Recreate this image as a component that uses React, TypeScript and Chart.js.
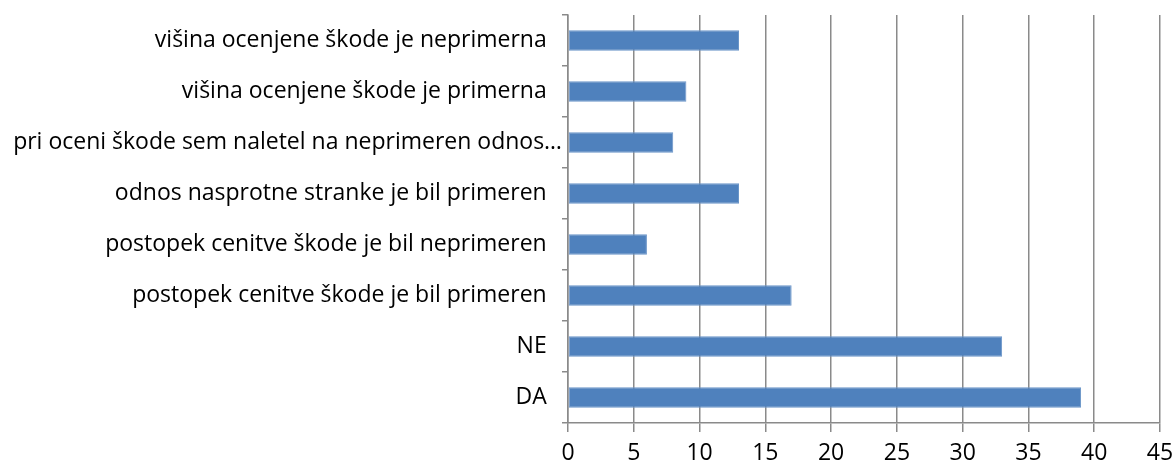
import React, { useEffect, useRef } from "react";
import { Chart, registerables } from "chart.js";

Chart.register(...registerables);

const categories: string[] = [
  "višina ocenjene škode je neprimerna",
  "višina ocenjene škode je primerna",
  "pri oceni škode sem naletel na neprimeren odnos…",
  "odnos nasprotne stranke je bil primeren",
  "postopek cenitve škode je bil neprimeren",
  "postopek cenitve škode je bil primeren",
  "NE",
  "DA",
];

const values: number[] = [13, 9, 8, 13, 6, 17, 33, 39];

const xMin = 0;
const xMax = 45;
const xStep = 5;

export default function App() {
  const ref = useRef<HTMLCanvasElement | null>(null);

  useEffect(() => {
    document.body.style.margin = "0";
    const canvas = ref.current;
    if (!canvas) return;
    const gridColor = "#8a8a8a";
    const font = { family: "'Open Sans', sans-serif", size: 23 };
    const chart = new Chart(canvas, {
      type: "bar",
      data: {
        labels: categories,
        datasets: [
          {
            data: values,
            backgroundColor: "#4F81BD",
            borderColor: "#6b95c8",
            borderWidth: 1,
            borderSkipped: false,
            barPercentage: 0.4,
            categoryPercentage: 1,
          },
        ],
      },
      options: {
        indexAxis: "y",
        animation: false,
        responsive: false,
        maintainAspectRatio: false,
        layout: { padding: { top: 15, right: 15, left: 0, bottom: 0 } },
        plugins: {
          legend: { display: false },
          tooltip: { enabled: false },
        },
        scales: {
          x: {
            min: xMin,
            max: xMax,
            ticks: {
              stepSize: xStep,
              font,
              color: "#000",
              padding: 8,
              maxRotation: 0,
            },
            grid: {
              color: gridColor,
              lineWidth: 1.5,
              tickLength: 9,
              drawTicks: true,
            },
            border: { display: true, color: gridColor, width: 1.5 },
            afterFit: (scale: any) => {
              scale.height = 45;
              scale.paddingRight = 0;
              scale.paddingLeft = 0;
            },
          },
          y: {
            ticks: {
              font,
              color: "#000",
              padding: 0,
              autoSkip: false,
              callback: function (this: any, v: any) {
                const l = categories[v as number];
                return l.endsWith("…") ? l : l + "\u2002\u2009";
              },
            },
            grid: {
              drawOnChartArea: false,
              drawTicks: true,
              tickLength: 6,
              color: gridColor,
              lineWidth: 1.5,
              offset: true,
            },
            border: { display: true, color: gridColor, width: 1.5 },
            afterFit: (scale: any) => {
              scale.width = 568;
              scale.paddingTop = 0;
              scale.paddingBottom = 0;
            },
          },
        },
      },
    });
    return () => chart.destroy();
  }, []);

  return (
    <div style={{ width: 1175, height: 468, background: "#fff" }}>
      <canvas ref={ref} width={1175} height={468} style={{ display: "block" }} />
    </div>
  );
}
